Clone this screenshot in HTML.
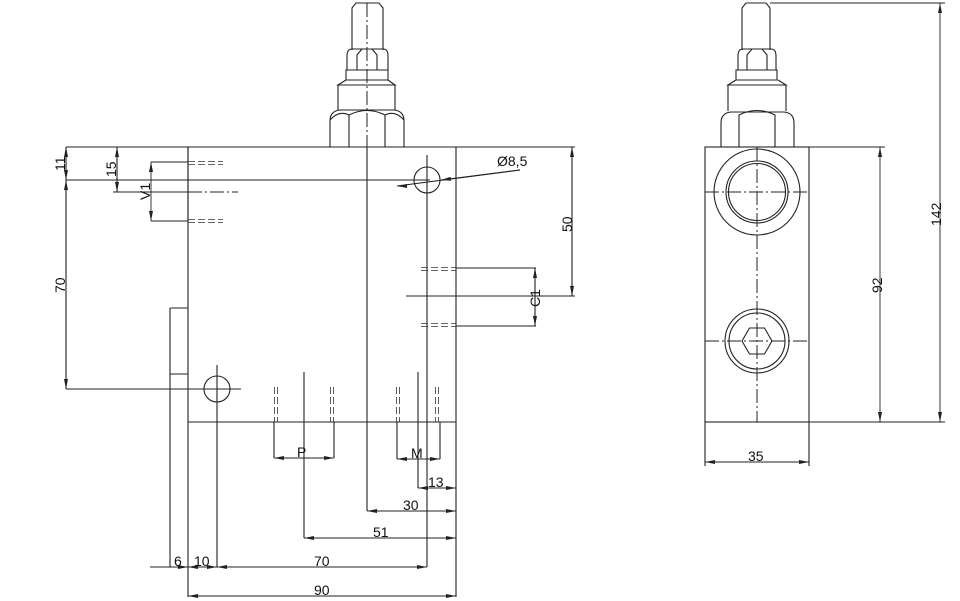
<!DOCTYPE html>
<html><head><meta charset="utf-8"><style>body{margin:0;background:#fff}svg{display:block}text{font-family:"Liberation Sans",sans-serif;font-size:14px;fill:#111}</style></head><body>
<svg width="960" height="601" viewBox="0 0 960 601" xmlns="http://www.w3.org/2000/svg">
<defs><marker id="a" viewBox="0 0 10 4" refX="10" refY="2" markerWidth="10" markerHeight="4" orient="auto-start-reverse" markerUnits="userSpaceOnUse"><path d="M0,0L10,2L0,4z" fill="#222"/></marker></defs>
<g stroke="#222" stroke-width="1.1" fill="none">
<path d="M352,50V8l4,-5h23l4,5v42"/>
<path d="M347,70V56q0,-7 5,-7h31q5,0 5,7v14M357,70V55l5,-6M377,70V55l-5,-6"/>
<path d="M346,70h42v10h-42zM346,80l-8,5h57l-7,-5M338,85v25M395,85v25"/>
<path d="M330,147v-26q0,-10 10,-11h54q10,1 10,11v26M349,147v-32q18,-9 36,0v32M349,115q-10,-5 -19,5M385,115q10,-5 19,5"/>
<path d="M66,147H575M188,147V597M456,147V597M188,422H456"/>
<path d="M117,147V192M113,192H188M151,162H188M151,221H188M188,147V221"/>
<path d="M170,308H188M170,374H188M170,308V567"/>
<path d="M66,180H430M66,147V389M66,389H241"/>
<circle cx="427" cy="180" r="13"/><circle cx="217" cy="389" r="13"/>
<path d="M427,155V567M217,365V567"/>
<path d="M456,268H536M456,326H536M406,296H575M572,147V296M535,268V326"/>
<path d="M274,422V458M334,422V458M304,372V538M397,422V459M440,422V459M418,372V488"/>
<path d="M367,147V511"/>
<path d="M397,186L520,170"/>
</g>
<g stroke="#333" stroke-width="0.8" fill="none" stroke-dasharray="7,3">
<path d="M188,161.5H223M188,164.5H223M188,219.5H223M188,222.5H223"/>
<path d="M421,267.5H456M421,270.5H456M421,323.5H456M421,326.5H456"/>
<path d="M274.5,387V422M277.5,387V422M330.5,387V422M333.5,387V422M396.5,387V422M399.5,387V422M435.5,387V422M438.5,387V422"/>
</g>
<g stroke="#222" stroke-width="1" fill="none" stroke-dasharray="14,3,2,3">
<path d="M188,192H238M367,3V147"/>
</g>
<g stroke="#222" stroke-width="0.9" fill="none" marker-start="url(#a)" marker-end="url(#a)">
<path d="M66,147V180"/><path d="M66,180V389"/><path d="M117,147V192"/><path d="M151,162V221"/>
<path d="M572,147V296"/><path d="M535,268V326"/>
<path d="M274,458H334"/><path d="M397,459H440"/>
<path d="M418,488H456"/><path d="M367,511H456"/><path d="M304,538H456"/>
<path d="M217,567H427"/><path d="M188,567H217"/><path d="M188,596H456"/>
</g>
<path d="M150,567H170M170,567H188" stroke="#222" stroke-width="0.9" marker-end="url(#a)"/>
<path d="M400,186L397,186" stroke="#222" marker-end="url(#a)"/>
<path d="M520,170L441,180" stroke="#222" marker-end="url(#a)"/>
<g stroke="#222" stroke-width="1.1" fill="none">
<path d="M742,50V8l4,-5h20l4,5v42"/>
<path d="M738,70V56q0,-7 5,-7h28q5,0 5,7v14M747,70V55l5,-6M767,70V55l-5,-6"/>
<path d="M736,70h41v10h-41zM736,80l-8,5h58l-8,-5M728,85v26M786,85v26"/>
<path d="M721,147v-24q0,-10 10,-11h53q10,1 10,11v24M739,147v-32q18,-9 36,0v32"/>
<rect x="705" y="147" width="104" height="275"/>
<circle cx="757" cy="192" r="43"/><circle cx="757" cy="192" r="31"/><circle cx="757" cy="192" r="28.5"/>
<circle cx="757" cy="341" r="32"/><circle cx="757" cy="341" r="28"/>
<path d="M772,341l-7.5,13h-15l-7.5,-13l7.5,-13h15z"/>
<path d="M770,3H945M809,147H885M809,422H945M705,422V466M809,422V466"/>
</g>
<g stroke="#222" stroke-width="1" fill="none" stroke-dasharray="14,3,2,3">
<path d="M757,147V422M705,192H809M705,341H809"/>
</g>
<g stroke="#222" stroke-width="0.9" fill="none" marker-start="url(#a)" marker-end="url(#a)">
<path d="M880,147V422"/><path d="M940,3V422"/><path d="M705,462H809"/>
</g>
<g>
<text x="497" y="166">Ø8,5</text>
<text x="297" y="457">P</text>
<text x="411" y="458">M</text>
<text x="428" y="487">13</text>
<text x="403" y="510">30</text>
<text x="373" y="537">51</text>
<text x="174" y="566">6</text>
<text x="194" y="566">10</text>
<text x="314" y="566">70</text>
<text x="314" y="595">90</text>
<text x="748" y="461">35</text>
<text transform="translate(65,171) rotate(-90)">11</text>
<text transform="translate(116,177) rotate(-90)">15</text>
<text transform="translate(150,200) rotate(-90)">V1</text>
<text transform="translate(65,293) rotate(-90)">70</text>
<text transform="translate(572,232) rotate(-90)">50</text>
<text transform="translate(540,307) rotate(-90)">C1</text>
<text transform="translate(882,293) rotate(-90)">92</text>
<text transform="translate(941,226) rotate(-90)">142</text>
</g>
</svg>
</body></html>
